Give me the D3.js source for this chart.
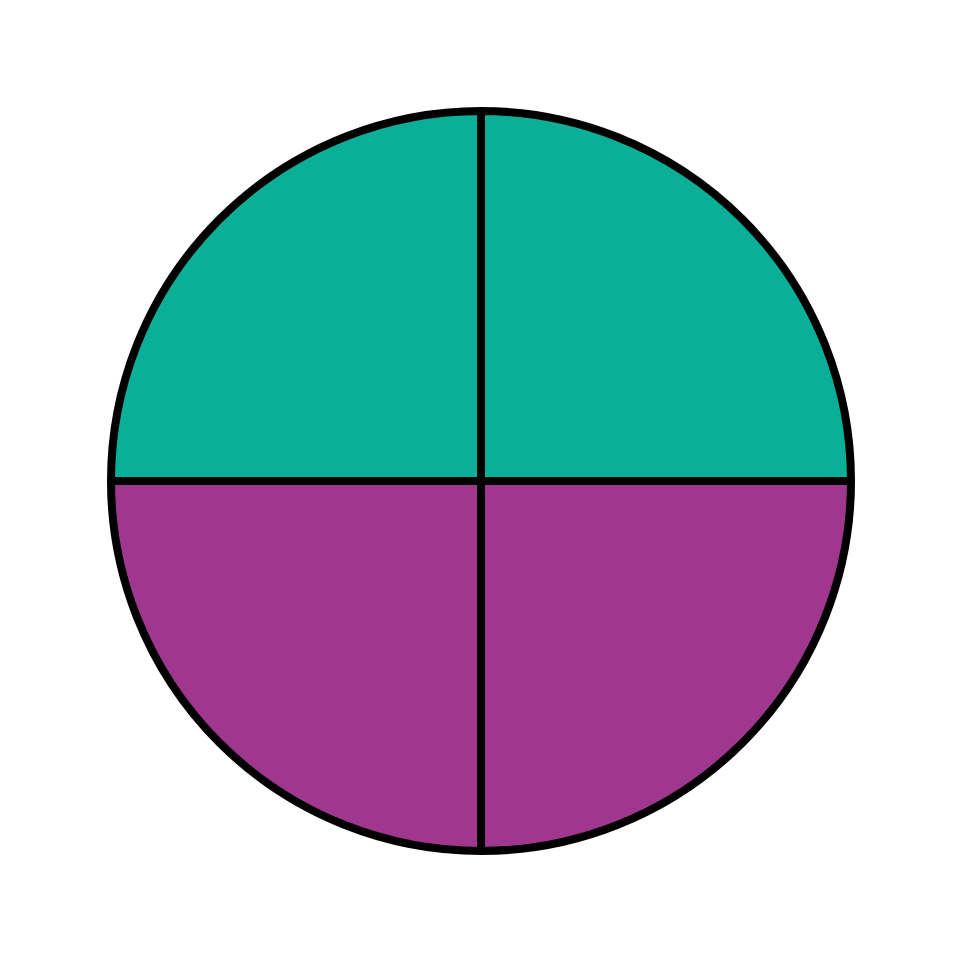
<!DOCTYPE html>
<html>
<head>
<meta charset="utf-8">
<script src="https://cdn.jsdelivr.net/npm/d3@7"></script>
<style>
html,body{margin:0;padding:0;background:#fff;}
svg{display:block;}
</style>
</head>
<body>
<svg id="chart" width="958" height="958"></svg>
<script>
const categories = ["Top right", "Bottom right", "Bottom left", "Top left"];
const values = [25, 25, 25, 25];
const colors = ["#0AAF98", "#A0378F", "#A0378F", "#0AAF98"];

const svg = d3.select("#chart");
const cx = 481, cy = 481, r = 370;
const g = svg.append("g").attr("transform", `translate(${cx},${cy})`);

const data = categories.map((c, i) => ({ name: c, value: values[i], color: colors[i] }));
const pie = d3.pie().value(d => d.value).sort(null);
const arc = d3.arc().innerRadius(0).outerRadius(r);

g.selectAll("path")
  .data(pie(data))
  .join("path")
  .attr("d", arc)
  .attr("fill", d => d.data.color)
  .attr("stroke", "#000")
  .attr("stroke-width", 8)
  .attr("stroke-linejoin", "round");
</script>
</body>
</html>
